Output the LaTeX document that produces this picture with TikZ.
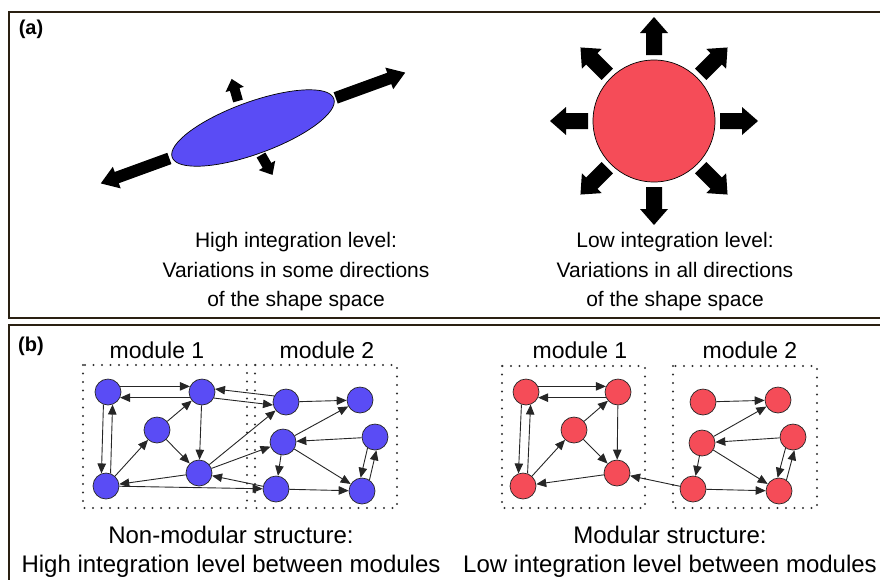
\documentclass[tikz,border=0pt]{standalone}
\usepackage{fontspec}
\setmainfont{Liberation Sans}
\usetikzlibrary{arrows.meta}

\definecolor{hiblue}{RGB}{90,76,245}
\definecolor{lored}{RGB}{245,76,88}
\definecolor{framebrown}{RGB}{42,32,18}

% fat arrow: centre, angle, from, to, half shaft, half head, head length
\newcommand{\fatarrow}[7]{%
  \fill[shift={#1}, rotate=#2] (#3,-#5) -- ({#4-#7},-#5) -- ({#4-#7},-#6) -- (#4,0)
    -- ({#4-#7},#6) -- ({#4-#7},#5) -- (#3,#5) -- cycle;}

\tikzset{
  panel/.style={draw=framebrown, line width=2pt},
  blob/.style={circle, draw=black!85, line width=0.7pt, minimum size=26pt, inner sep=0pt},
  arr/.style={-{Triangle[length=10pt,width=8.5pt]}, line width=0.9pt, black!85},
  modbox/.style={line width=2.2pt, dash pattern=on 0pt off 8.5pt, line cap=round, black!80},
  caption/.style={align=center, font=\fontsize{21}{29.5}\selectfont},
  modlabel/.style={font=\fontsize{23}{27}\selectfont},
  bcaption/.style={align=center, font=\fontsize{24}{29}\selectfont},
}

\begin{document}
\begin{tikzpicture}[x=1pt, y=-1pt]
    \useasboundingbox (0,0) rectangle (880,579);
    \clip (0,0) rectangle (880,579);
    % \draw[help lines, step=50] (0,0) grid (880,579);

    % panel frames
    \draw[panel] (9,12) rectangle (900,318);
    \draw[panel] (9,325) rectangle (900,600);
    \node[font=\bfseries\fontsize{20}{24}\selectfont] (taga) at (31,29) {(a)};
    \node[font=\bfseries\fontsize{20}{24}\selectfont] (tagb) at (31,346) {(b)};

    % (a) high integration
    \draw[fill=hiblue, line width=0.7pt, rotate around={20:(253,128)}] (253,128) ellipse [x radius=86, y radius=26];
    \fatarrow{(253,128)}{20}{88}{162}{6}{11.5}{17}
    \fatarrow{(253,128)}{200}{89}{162}{6}{11.5}{17}
    \fatarrow{(238,101)}{106}{0}{23}{5}{9.5}{11}
    \fatarrow{(261,155)}{-60}{0}{23}{5}{9.5}{11}

    % (a) low integration
    \draw[fill=lored, line width=0.7pt] (654,121) circle [radius=61];
    \foreach \a in {0,45,...,315}{
        \fatarrow{(654,121)}{\a}{66}{104}{8}{14}{16}
    }

    \node[caption] (capa) at (296,272) {High integration level:\\Variations in some directions\\of the shape space};
    \node[caption] (capb) at (675,272) {Low integration level:\\Variations in all directions\\of the shape space};

    % (b) module boxes
    \draw[modbox] (83,365) rectangle (247,508);
    \draw[modbox] (255,365) rectangle (397,508);
    \draw[modbox] (502,366) rectangle (645,508);
    \draw[modbox] (673,366) rectangle (817,508);

    \node[modlabel] (lm1) at (157,350) {module 1};
    \node[modlabel] (lm2) at (327,350) {module 2};
    \node[modlabel] (rm1) at (580,350) {module 1};
    \node[modlabel] (rm2) at (750,350) {module 2};

    % non-modular network
    \node[blob, fill=hiblue] (lA) at (108,392) {};
    \node[blob, fill=hiblue] (lB) at (202,392) {};
    \node[blob, fill=hiblue] (lC) at (157,430) {};
    \node[blob, fill=hiblue] (lD) at (199,473) {};
    \node[blob, fill=hiblue] (lE) at (106,486) {};
    \node[blob, fill=hiblue] (lF) at (286,402) {};
    \node[blob, fill=hiblue] (lG) at (360,400) {};
    \node[blob, fill=hiblue] (lH) at (283,442) {};
    \node[blob, fill=hiblue] (lI) at (375,437) {};
    \node[blob, fill=hiblue] (lJ) at (276,489) {};
    \node[blob, fill=hiblue] (lK) at (362,491) {};

    \draw[arr] (lA.25) -- (lB.155);
    \draw[arr] (lB.205) -- (lA.335);
    \draw[arr] (lA.250) -- (lE.110);
    \draw[arr] (lE.70) -- (lA.290);
    \draw[arr] (lE) -- (lC);
    \draw[arr] (lC) -- (lB);
    \draw[arr] (lC) -- (lD);
    \draw[arr] (lB) -- (lD);
    \draw[arr] (lD) -- (lE);
    \draw[arr] (lF.153) -- (lB.13);
    \draw[arr] (lB.-27) -- (lF.193);
    \draw[arr] (lD) -- (lF);
    \draw[arr] (lD) -- (lH);
    \draw[arr] (lJ) -- (lD);
    \draw[arr] (lE) -- (lJ);
    \draw[arr] (lF) -- (lG);
    \draw[arr] (lH) -- (lG);
    \draw[arr] (lI) -- (lH);
    \draw[arr] (lH) -- (lJ);
    \draw[arr] (lH) -- (lK);
    \draw[arr] (lJ) -- (lK);
    \draw[arr] (lI.236) -- (lK.96);
    \draw[arr] (lK.56) -- (lI.276);

    % modular network
    \node[blob, fill=lored] (rA) at (526,392) {};
    \node[blob, fill=lored] (rB) at (618,392) {};
    \node[blob, fill=lored] (rC) at (574,430) {};
    \node[blob, fill=lored] (rD) at (617,473) {};
    \node[blob, fill=lored] (rE) at (523,486) {};
    \node[blob, fill=lored] (rF) at (703,402) {};
    \node[blob, fill=lored] (rG) at (778,400) {};
    \node[blob, fill=lored] (rH) at (702,443) {};
    \node[blob, fill=lored] (rI) at (793,437) {};
    \node[blob, fill=lored] (rJ) at (693,489) {};
    \node[blob, fill=lored] (rK) at (779,491) {};

    \draw[arr] (rA.25) -- (rB.155);
    \draw[arr] (rB.205) -- (rA.335);
    \draw[arr] (rA.250) -- (rE.110);
    \draw[arr] (rE.70) -- (rA.290);
    \draw[arr] (rE) -- (rC);
    \draw[arr] (rC) -- (rB);
    \draw[arr] (rC) -- (rD);
    \draw[arr] (rB) -- (rD);
    \draw[arr] (rD) -- (rE);
    \draw[arr] (rJ) -- (rD);
    \draw[arr] (rF) -- (rG);
    \draw[arr] (rH) -- (rG);
    \draw[arr] (rI) -- (rH);
    \draw[arr] (rH) -- (rJ);
    \draw[arr] (rH) -- (rK);
    \draw[arr] (rJ) -- (rK);
    \draw[arr] (rI.236) -- (rK.96);
    \draw[arr] (rK.56) -- (rI.276);

    \node[bcaption] (capc) at (231,552) {Non-modular structure:\\High integration level between modules};
    \node[bcaption] (capd) at (670,552) {Modular structure:\\Low integration level between modules};
\end{tikzpicture}
\end{document}
